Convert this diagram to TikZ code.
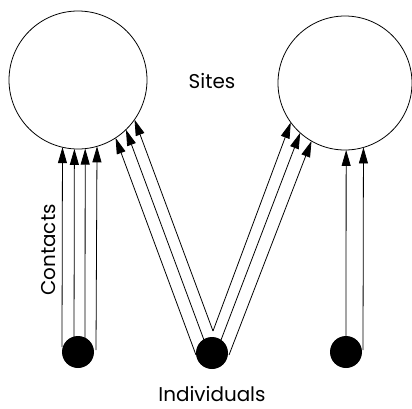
\documentclass[tikz,border=0pt]{standalone}
\usepackage{fontspec}
\setmainfont{Poppins}
\usetikzlibrary{arrows.meta,calc,backgrounds}
\begin{document}
\begin{tikzpicture}[x=1bp,y=-1bp,
  site/.style={circle,draw,line width=0.8pt,inner sep=0pt,outer sep=0pt},
  indiv/.style={circle,fill=black,minimum size=32bp,inner sep=0pt,outer sep=0pt},
  con/.style={line width=0.8pt,-{Triangle[length=16bp,width=9bp]}},
  lab/.style={font=\fontsize{20}{20}\selectfont,inner sep=0pt}]
\useasboundingbox (0,0) rectangle (412,409);
\node[site,minimum size=138bp] (L) at (78,80) {};
\node[site,minimum size=134bp] (R) at (345,83) {};
\node[indiv] (dL) at (78,352) {};
\node[indiv] (dM) at (212,353) {};
\node[indiv] (dR) at (346,352) {};
\node[lab,anchor=base] (sites) at (212,88) {Sites};
\node[lab,anchor=base] (indl) at (212,401) {Individuals};
\node[lab,anchor=base,rotate=90] (cont) at (55,250) {Contacts};
\begin{scope}[on background layer]
  % left individual to left site
  \draw[con] ($(dL)+(-16,-5)$) -- (L.-103.4);
  \draw[con] ($(dL)+(-4,0)$) -- (L.-93.3);
  \draw[con] ($(dL)+(7,0)$) -- (L.-84.2);
  \draw[con] ($(dL)+(18,-2)$) -- (L.-74.9);
  % middle individual to left site
  \draw[con] ($(dM)+(-16,2)$) -- (L.-57);
  \draw[con] ($(dM)+(-8,-13)$) -- (L.-46);
  \draw[con] ($(dM)+(1,-22)$) -- (L.-35);
  % middle individual to right site
  \draw[con] ($(dM)+(1,-22)$) -- (R.-144.2);
  \draw[con] ($(dM)+(9,-13)$) -- (R.-132.5);
  \draw[con] ($(dM)+(17,2)$) -- (R.-120.7);
  % right individual to right site
  \draw[con] ($(dR)+(0,0)$) -- (R.-89.1);
  \draw[con] ($(dR)+(17,-2)$) -- (R.-74.4);
\end{scope}
\end{tikzpicture}
\end{document}
